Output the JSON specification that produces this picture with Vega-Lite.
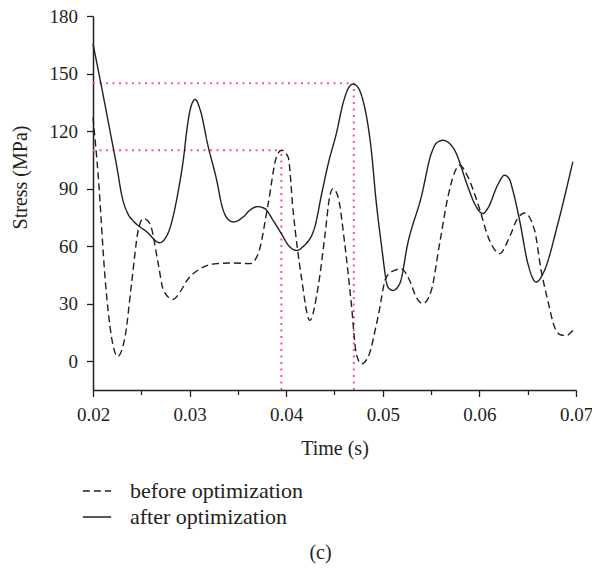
{
  "$schema": "https://vega.github.io/schema/vega-lite/v6.json",
  "width": 483,
  "height": 374,
  "autosize": {"type": "none"},
  "padding": {"left": 93, "top": 16, "right": 16, "bottom": 192},
  "background": "white",
  "title": {"text": "(c)", "orient": "bottom", "anchor": "middle", "offset": 15, "font": "Liberation Serif", "fontSize": 20, "fontWeight": "normal", "color": "#231f20", "dx": -14},
  "config": {
    "view": {"stroke": null},
    "axis": {"grid": false, "labelFont": "Liberation Serif", "labelFontSize": 19, "labelColor": "#231f20", "titleFont": "Liberation Serif", "titleFontSize": 20, "titleFontWeight": "normal", "titleColor": "#231f20", "domainColor": "#231f20", "domainWidth": 1.5, "tickColor": "#231f20", "tickWidth": 1.3}
  },
  "datasets": {
    "lines": [
      {"t":0.0200,"s":165.5,"series":"after optimization"},{"t":0.02075,"s":146.5,"series":"after optimization"},{"t":0.0218,"s":119,"series":"after optimization"},{"t":0.02248,"s":101,"series":"after optimization"},{"t":0.0230,"s":86,"series":"after optimization"},{"t":0.0236,"s":77,"series":"after optimization"},{"t":0.0242,"s":73,"series":"after optimization"},{"t":0.02558,"s":67.4,"series":"after optimization"},{"t":0.02689,"s":61.8,"series":"after optimization"},{"t":0.0274,"s":63.5,"series":"after optimization"},{"t":0.0280,"s":70,"series":"after optimization"},{"t":0.0288,"s":88,"series":"after optimization"},{"t":0.0294,"s":107,"series":"after optimization"},{"t":0.0297,"s":120,"series":"after optimization"},{"t":0.0301,"s":132,"series":"after optimization"},{"t":0.03058,"s":136.5,"series":"after optimization"},{"t":0.0311,"s":131,"series":"after optimization"},{"t":0.03192,"s":112,"series":"after optimization"},{"t":0.03282,"s":94,"series":"after optimization"},{"t":0.0333,"s":82,"series":"after optimization"},{"t":0.03382,"s":75,"series":"after optimization"},{"t":0.03451,"s":72.6,"series":"after optimization"},{"t":0.0355,"s":75,"series":"after optimization"},{"t":0.03624,"s":78.7,"series":"after optimization"},{"t":0.0370,"s":80.6,"series":"after optimization"},{"t":0.0375,"s":80.2,"series":"after optimization"},{"t":0.03779,"s":79.6,"series":"after optimization"},{"t":0.0387,"s":73,"series":"after optimization"},{"t":0.0395,"s":66.5,"series":"after optimization"},{"t":0.0403,"s":60,"series":"after optimization"},{"t":0.04105,"s":57.8,"series":"after optimization"},{"t":0.0418,"s":60,"series":"after optimization"},{"t":0.04296,"s":70,"series":"after optimization"},{"t":0.0437,"s":88,"series":"after optimization"},{"t":0.0444,"s":104,"series":"after optimization"},{"t":0.04519,"s":118.7,"series":"after optimization"},{"t":0.04588,"s":134.4,"series":"after optimization"},{"t":0.0464,"s":142,"series":"after optimization"},{"t":0.04692,"s":144.5,"series":"after optimization"},{"t":0.0474,"s":143,"series":"after optimization"},{"t":0.04795,"s":136,"series":"after optimization"},{"t":0.04881,"s":110,"series":"after optimization"},{"t":0.0493,"s":84,"series":"after optimization"},{"t":0.04984,"s":61.3,"series":"after optimization"},{"t":0.05054,"s":38.6,"series":"after optimization"},{"t":0.05105,"s":36.9,"series":"after optimization"},{"t":0.05175,"s":40.4,"series":"after optimization"},{"t":0.05261,"s":62,"series":"after optimization"},{"t":0.05398,"s":85.6,"series":"after optimization"},{"t":0.05502,"s":108.3,"series":"after optimization"},{"t":0.0556,"s":114,"series":"after optimization"},{"t":0.05623,"s":115.2,"series":"after optimization"},{"t":0.0568,"s":114,"series":"after optimization"},{"t":0.05744,"s":110,"series":"after optimization"},{"t":0.05881,"s":90.9,"series":"after optimization"},{"t":0.0595,"s":82.2,"series":"after optimization"},{"t":0.06036,"s":77,"series":"after optimization"},{"t":0.0609,"s":80,"series":"after optimization"},{"t":0.0619,"s":92,"series":"after optimization"},{"t":0.06261,"s":97,"series":"after optimization"},{"t":0.0631,"s":95,"series":"after optimization"},{"t":0.06346,"s":89.1,"series":"after optimization"},{"t":0.06416,"s":73.5,"series":"after optimization"},{"t":0.06502,"s":50.9,"series":"after optimization"},{"t":0.06587,"s":41.3,"series":"after optimization"},{"t":0.06674,"s":47.4,"series":"after optimization"},{"t":0.06812,"s":71.7,"series":"after optimization"},{"t":0.06967,"s":104,"series":"after optimization"},
      {"t":0.0200,"s":127,"series":"before optimization"},{"t":0.02055,"s":96,"series":"before optimization"},{"t":0.02124,"s":44,"series":"before optimization"},{"t":0.02192,"s":12.5,"series":"before optimization"},{"t":0.02254,"s":2.5,"series":"before optimization"},{"t":0.02331,"s":12.5,"series":"before optimization"},{"t":0.02399,"s":40.4,"series":"before optimization"},{"t":0.02468,"s":68.3,"series":"before optimization"},{"t":0.0252,"s":74.4,"series":"before optimization"},{"t":0.02589,"s":71.7,"series":"before optimization"},{"t":0.02675,"s":50.9,"series":"before optimization"},{"t":0.0273,"s":36.9,"series":"before optimization"},{"t":0.02827,"s":32.2,"series":"before optimization"},{"t":0.0290,"s":36,"series":"before optimization"},{"t":0.02972,"s":42.1,"series":"before optimization"},{"t":0.0311,"s":48.2,"series":"before optimization"},{"t":0.03282,"s":50.9,"series":"before optimization"},{"t":0.03454,"s":51.2,"series":"before optimization"},{"t":0.03627,"s":50.9,"series":"before optimization"},{"t":0.0371,"s":56,"series":"before optimization"},{"t":0.03813,"s":82,"series":"before optimization"},{"t":0.03899,"s":106.5,"series":"before optimization"},{"t":0.0395,"s":110,"series":"before optimization"},{"t":0.0402,"s":106.5,"series":"before optimization"},{"t":0.04071,"s":78.7,"series":"before optimization"},{"t":0.04157,"s":43.9,"series":"before optimization"},{"t":0.04244,"s":21.3,"series":"before optimization"},{"t":0.0433,"s":38.6,"series":"before optimization"},{"t":0.04399,"s":64.8,"series":"before optimization"},{"t":0.04451,"s":86,"series":"before optimization"},{"t":0.04485,"s":90,"series":"before optimization"},{"t":0.04537,"s":85.6,"series":"before optimization"},{"t":0.04606,"s":61.3,"series":"before optimization"},{"t":0.04674,"s":30,"series":"before optimization"},{"t":0.04726,"s":3.9,"series":"before optimization"},{"t":0.04778,"s":-1.4,"series":"before optimization"},{"t":0.04847,"s":2.1,"series":"before optimization"},{"t":0.0495,"s":23,"series":"before optimization"},{"t":0.05036,"s":43.9,"series":"before optimization"},{"t":0.05123,"s":47.4,"series":"before optimization"},{"t":0.05191,"s":48.2,"series":"before optimization"},{"t":0.05278,"s":42.1,"series":"before optimization"},{"t":0.0535,"s":33,"series":"before optimization"},{"t":0.05416,"s":30,"series":"before optimization"},{"t":0.05502,"s":36.9,"series":"before optimization"},{"t":0.05588,"s":61.3,"series":"before optimization"},{"t":0.05674,"s":85.6,"series":"before optimization"},{"t":0.0574,"s":98,"series":"before optimization"},{"t":0.05795,"s":102.2,"series":"before optimization"},{"t":0.05881,"s":96.1,"series":"before optimization"},{"t":0.05984,"s":82.2,"series":"before optimization"},{"t":0.06105,"s":63,"series":"before optimization"},{"t":0.06209,"s":56.1,"series":"before optimization"},{"t":0.06312,"s":64.8,"series":"before optimization"},{"t":0.0639,"s":74,"series":"before optimization"},{"t":0.06467,"s":77.3,"series":"before optimization"},{"t":0.06571,"s":68.3,"series":"before optimization"},{"t":0.06639,"s":47.4,"series":"before optimization"},{"t":0.06708,"s":31.7,"series":"before optimization"},{"t":0.06778,"s":17.8,"series":"before optimization"},{"t":0.0684,"s":13.8,"series":"before optimization"},{"t":0.06898,"s":13.4,"series":"before optimization"},{"t":0.06967,"s":16,"series":"before optimization"}
    ],
    "refs": [
      {"xa":0.02,"xb":0.0395,"ya":110,"yb":110},
      {"xa":0.0395,"xb":0.0395,"ya":-15,"yb":110},
      {"xa":0.02,"xb":0.0470,"ya":145,"yb":145},
      {"xa":0.0470,"xb":0.0470,"ya":-15,"yb":145}
    ]
  },
  "layer": [
    {
      "data": {"name": "refs"},
      "mark": {"type": "rule", "color": "#ff4f87", "strokeWidth": 2, "strokeDash": [2, 4.5]},
      "encoding": {
        "x": {"field": "xa", "type": "quantitative", "scale": {"domain": [0.02, 0.07], "nice": false, "zero": false}},
        "x2": {"field": "xb"},
        "y": {"field": "ya", "type": "quantitative", "scale": {"domain": [-15, 180], "nice": false, "zero": false}},
        "y2": {"field": "yb"}
      }
    },
    {
      "data": {"name": "lines"},
      "mark": {"type": "line", "interpolate": "monotone", "color": "#231f20", "strokeWidth": 1.4},
      "encoding": {
        "x": {"field": "t", "type": "quantitative", "scale": {"domain": [0.02, 0.07], "nice": false, "zero": false},
          "axis": {"title": "Time (s)", "values": [0.02,0.025,0.03,0.035,0.04,0.045,0.05,0.055,0.06,0.065,0.07],
            "labelExpr": "abs(datum.value*100 - round(datum.value*100)) < 0.001 ? format(datum.value, '.2f') : ''",
            "tickSize": {"condition": {"test": "abs(datum.value*100 - round(datum.value*100)) < 0.001", "value": 6.5}, "value": 4.5},
            "labelPadding": 9, "titlePadding": 14, "labelFlush": false}},
        "y": {"field": "s", "type": "quantitative", "scale": {"domain": [-15, 180], "nice": false, "zero": false},
          "axis": {"title": "Stress (MPa)", "values": [0,15,30,45,60,75,90,105,120,135,150,165,180],
            "labelExpr": "datum.value % 30 == 0 ? datum.label : ''",
            "tickSize": {"condition": {"test": "datum.value % 30 == 0", "value": 6.5}, "value": 4.5},
            "labelPadding": 9, "titleX": -73, "titleY": 161, "titleAlign": "center", "titleBaseline": "middle", "labelFlush": false}},
        "strokeDash": {"field": "series", "type": "nominal",
          "scale": {"domain": ["before optimization", "after optimization"], "range": [[7, 4], [1, 0]]},
          "legend": {"title": null, "orient": "none", "legendX": -11, "legendY": 460, "direction": "vertical",
            "symbolType": "stroke", "symbolSize": 800, "symbolStrokeWidth": 1.4, "symbolStrokeColor": "#231f20",
            "labelFont": "Liberation Serif", "labelFontSize": 22, "labelLimit": 400, "labelColor": "#231f20", "labelOffset": 18, "rowPadding": 0}}
      }
    }
  ]
}
